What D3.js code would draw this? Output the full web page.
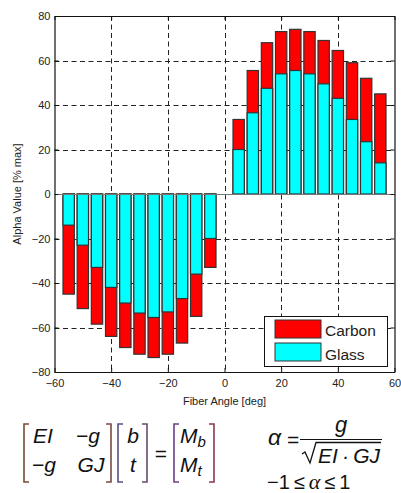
<!DOCTYPE html>
<html>
<head>
<meta charset="utf-8">
<script src="https://cdn.jsdelivr.net/npm/d3@7"></script>
<style>
  html, body { margin: 0; padding: 0; background: #fff; }
  svg { display: block; }
  text { font-family: "Liberation Sans", Arial, Helvetica, sans-serif; }
</style>
</head>
<body>
<svg id="chart" width="401" height="493"></svg>
<script>
// Fiber angles (deg) and bend-twist coupling per material (% of max)
const angles = [-55, -50, -45, -40, -35, -30, -25, -20, -15, -10, -5,
                5, 10, 15, 20, 25, 30, 35, 40, 45, 50, 55];
const carbon = [-45, -51.5, -58.5, -64, -69, -72, -73.5, -72, -67, -55, -33,
                33.5, 55.5, 68, 73, 74, 73, 69, 64.5, 59, 52, 45];
const glass  = [-14, -23, -33, -42, -49, -53.5, -55.5, -53, -47, -36, -20,
                20, 36.5, 47.5, 54, 55.5, 54, 49.5, 43, 33.5, 23.5, 14];
const xTicks = [-60, -40, -20, 0, 20, 40, 60];
const yTicks = [-80, -60, -40, -20, 0, 20, 40, 60, 80];
const seriesNames = ["Carbon", "Glass"];
const seriesColors = ["#ff0000", "#00ffff"];

const svg = d3.select("#chart");
const L = 54.5, R = 394.5, T = 16, B = 372;
const x = d3.scaleLinear().domain([-60, 60]).range([L, R]);
const y = d3.scaleLinear().domain([-80, 80]).range([B, T]);
const barW = x(4) - x(0);

// dashed grid behind the bars
const grid = svg.append("g").attr("stroke", "#222").attr("stroke-width", 1)
  .attr("stroke-dasharray", "5,3.5");
grid.selectAll("line.v").data(xTicks.filter(d => d > -60 && d < 60)).join("line")
  .attr("x1", d => Math.round(x(d)) + 0.5).attr("x2", d => Math.round(x(d)) + 0.5)
  .attr("y1", T).attr("y2", B);
grid.selectAll("line.h").data(yTicks.filter(d => d > -80 && d < 80 && d !== 0)).join("line")
  .attr("y1", d => Math.round(y(d)) + 0.5).attr("y2", d => Math.round(y(d)) + 0.5)
  .attr("x1", L).attr("x2", R);

// bars: carbon drawn full length, glass overlaid from the baseline
const bars = svg.append("g").attr("stroke", "#333").attr("stroke-width", 1.2);
function drawSeries(vals, color) {
  bars.append("g").selectAll("rect").data(vals).join("rect")
    .attr("x", (d, i) => x(angles[i]) - barW / 2)
    .attr("width", barW)
    .attr("y", d => Math.min(y(d), y(0)))
    .attr("height", d => Math.abs(y(d) - y(0)))
    .attr("fill", color);
}
drawSeries(carbon, seriesColors[0]);
drawSeries(glass, seriesColors[1]);

// baseline
svg.append("line").attr("x1", L).attr("x2", R)
  .attr("y1", Math.round(y(0)) + 0.5).attr("y2", Math.round(y(0)) + 0.5)
  .attr("stroke", "#777").attr("stroke-width", 1.2);

// axes with inward ticks, box on all sides
const tickLen = 4;
const axB = svg.append("g").attr("transform", `translate(0,${B})`)
  .call(d3.axisBottom(x).tickValues(xTicks).tickSizeInner(-tickLen).tickSizeOuter(0).tickPadding(7));
const axT = svg.append("g").attr("transform", `translate(0,${T})`)
  .call(d3.axisTop(x).tickValues(xTicks).tickSizeInner(-tickLen).tickSizeOuter(0).tickFormat(""));
const axL = svg.append("g").attr("transform", `translate(${L},0)`)
  .call(d3.axisLeft(y).tickValues(yTicks).tickSizeInner(-tickLen).tickSizeOuter(0).tickPadding(4));
const axR = svg.append("g").attr("transform", `translate(${R},0)`)
  .call(d3.axisRight(y).tickValues(yTicks).tickSizeInner(-tickLen).tickSizeOuter(0).tickFormat(""));
[axB, axT, axL, axR].forEach(a => {
  a.selectAll(".domain").attr("stroke", "#111").attr("stroke-width", 1.2);
  a.selectAll(".tick line").attr("stroke", "#111");
  a.selectAll("text").attr("font-size", 11).attr("fill", "#222")
    .attr("font-family", "'Liberation Sans', Arial, sans-serif");
});
axB.selectAll("text").attr("dy", "0.71em");

// axis titles
svg.append("text").attr("x", x(0)).attr("y", 405).attr("text-anchor", "middle")
  .attr("font-size", 11).attr("fill", "#222").text("Fiber Angle [deg]");
svg.append("text").attr("transform", `translate(21,${(T + B) / 2}) rotate(-90)`)
  .attr("text-anchor", "middle").attr("font-size", 11).attr("fill", "#222")
  .text("Alpha Value [% max]");

// legend
const lg = svg.append("g");
lg.append("rect").attr("x", 264.5).attr("y", 316.5).attr("width", 123).attr("height", 50)
  .attr("fill", "#fff").attr("stroke", "#111").attr("stroke-width", 1);
seriesNames.forEach((name, i) => {
  lg.append("rect").attr("x", 275).attr("y", 320 + i * 23).attr("width", 46).attr("height", 18)
    .attr("fill", seriesColors[i]).attr("stroke", "#333").attr("stroke-width", 1);
  lg.append("text").attr("x", 325).attr("y", 336 + i * 23.5)
    .attr("font-size", 15.5).attr("fill", "#222").text(name);
});

// stiffness matrix equation
const eq = svg.append("g").attr("font-style", "italic").attr("font-size", 21).attr("fill", "#111");
function bracket(xPos, dir, color) {
  const t = 424, b = 482, s = 5 * dir;
  eq.append("path")
    .attr("d", `M${xPos + s},${t} H${xPos} V${b} H${xPos + s}`)
    .attr("fill", "none").attr("stroke", color).attr("stroke-width", 1.6);
}
bracket(24, 1, "#7a4a35");
bracket(111, -1, "#7a4a45");
bracket(118, 1, "#5a4e86");
bracket(147, -1, "#6a4a70");
bracket(174, 1, "#6a3f86");
bracket(214, -1, "#8a3a4a");

function cell(txt, cx, by) {
  eq.append("text").attr("x", cx).attr("y", by).attr("text-anchor", "middle").text(txt);
}
cell("EI", 43, 443);
cell("\u2212g", 88, 443);
cell("\u2212g", 44, 472);
cell("GJ", 91, 472);
cell("b", 133, 443);
cell("t", 133, 472);
eq.append("text").attr("x", 161).attr("y", 461).attr("text-anchor", "middle")
  .attr("font-style", "normal").text("=");
[["b", 443], ["t", 472]].forEach(([sub, by]) => {
  const t = eq.append("text").attr("x", 180).attr("y", by);
  t.append("tspan").text("M");
  t.append("tspan").attr("font-size", 15).attr("dy", 4).text(sub);
});

// coupling coefficient definition
const ser = "'Liberation Serif', 'Times New Roman', serif";
eq.append("text").attr("x", 268).attr("y", 445).attr("font-family", ser).attr("font-size", 23).text("\u03b1");
eq.append("text").attr("x", 287).attr("y", 447).attr("font-style", "normal").text("=");
eq.append("line").attr("x1", 300).attr("x2", 382).attr("y1", 439.5).attr("y2", 439.5)
  .attr("stroke", "#111").attr("stroke-width", 1.2);
eq.append("text").attr("x", 341).attr("y", 432).attr("text-anchor", "middle").attr("font-size", 22).text("g");
eq.append("path").attr("d", "M302,454 L305,452 L310,463 L316,442.5 H381")
  .attr("fill", "none").attr("stroke", "#111").attr("stroke-width", 1.3);
eq.append("text").attr("x", 318).attr("y", 463).attr("font-size", 21).text("EI\u2009\u00b7\u2009GJ");
const rng = eq.append("text").attr("x", 267).attr("y", 489).attr("font-style", "normal").attr("font-size", 20);
rng.append("tspan").text("\u22121\u2009\u2264\u2009");
rng.append("tspan").attr("font-family", ser).attr("font-style", "italic").attr("font-size", 22).text("\u03b1");
rng.append("tspan").text("\u2009\u2264\u20091");
</script>
</body>
</html>
